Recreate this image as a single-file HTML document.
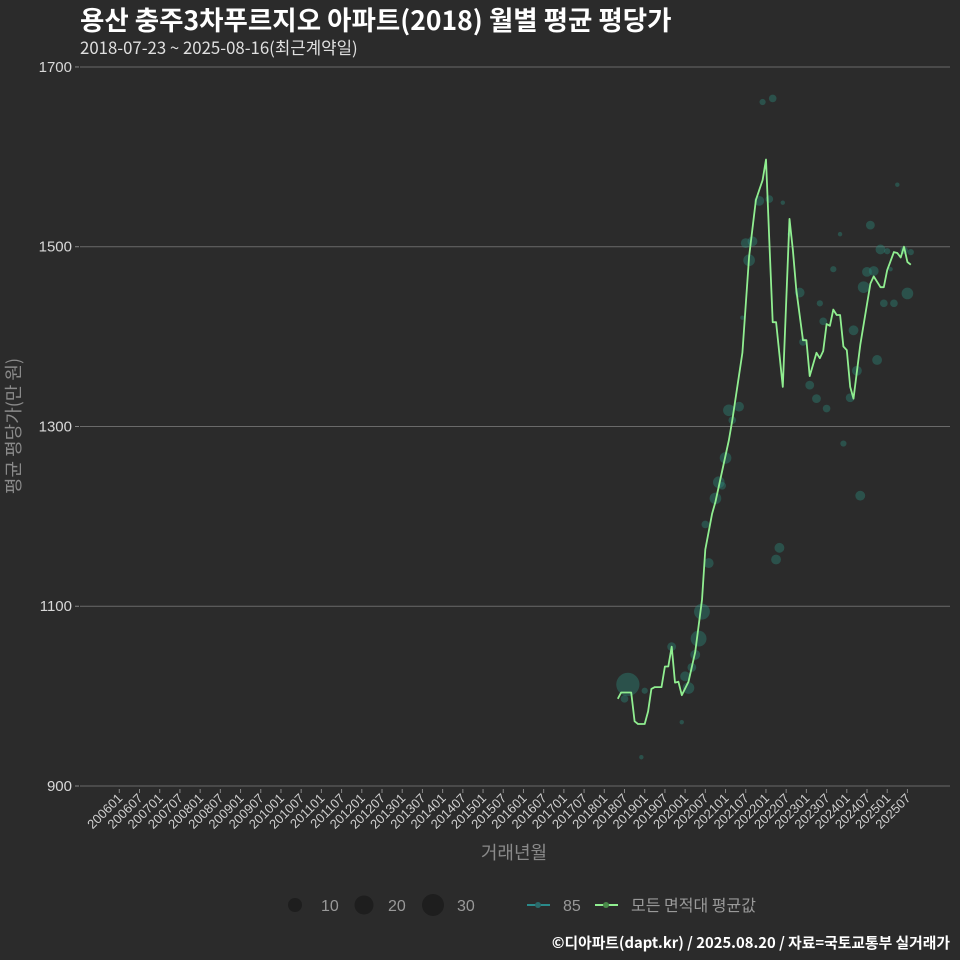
<!DOCTYPE html>
<html><head><meta charset="utf-8"><style>
html,body{margin:0;padding:0;background:#2b2b2b;}
svg{display:block;font-family:"Liberation Sans","Noto Sans CJK KR",sans-serif;}
</style></head><body>
<svg id="chart" width="960" height="960" viewBox="0 0 960 960">
<rect width="960" height="960" fill="#2b2b2b"/>
<text x="80" y="30" fill="#ffffff" font-size="26.5" font-weight="bold" font-family="'Noto Sans CJK KR',sans-serif">용산 충주3차푸르지오 아파트(2018) 월별 평균 평당가</text>
<text x="80" y="54" fill="#e0e0e0" font-size="16.8" font-family="'Noto Sans CJK KR',sans-serif">2018-07-23 ~ 2025-08-16(최근계약일)</text>
<g id="grid"></g>
<g id="yticks"></g>
<g id="xticks"></g>
<g id="bubbles"></g>
<g id="lineg"></g>
<text transform="translate(20,426) rotate(-90)" text-anchor="middle" fill="#8a8a8a" font-size="18" font-family="'Noto Sans CJK KR',sans-serif">평균 평당가(만 원)</text>
<text x="514" y="859" text-anchor="middle" fill="#8a8a8a" font-size="18" font-family="'Noto Sans CJK KR',sans-serif">거래년월</text>
<g>
 <circle cx="295" cy="905" r="7" fill="#1e1e1e"/>
 <text x="321" y="911" fill="#999" font-size="16">10</text>
 <circle cx="364" cy="905" r="9.5" fill="#1e1e1e"/>
 <text x="388" y="911" fill="#999" font-size="16">20</text>
 <circle cx="433" cy="905" r="11" fill="#1e1e1e"/>
 <text x="457" y="911" fill="#999" font-size="16">30</text>
 <line x1="527" y1="905" x2="550" y2="905" stroke="#2a8a8a" stroke-width="2"/>
 <circle cx="538" cy="905" r="3" fill="#2a6a6a"/>
 <text x="563" y="911" fill="#999" font-size="16">85</text>
 <line x1="595" y1="905" x2="618" y2="905" stroke="#90ee90" stroke-width="2"/>
 <circle cx="606" cy="905" r="3" fill="#4a8a4a"/>
 <text x="631" y="911" fill="#999" font-size="16" font-family="'Noto Sans CJK KR',sans-serif">모든 면적대 평균값</text>
</g>
<text x="950" y="948" text-anchor="end" fill="#ffffff" font-size="14.8" font-weight="bold" font-family="'Noto Sans CJK KR',sans-serif">©디아파트(dapt.kr) / 2025.08.20 / 자료=국토교통부 실거래가</text>
</svg>
<script>
const yTicks=[900,1100,1300,1500,1700];
const lineMonths=[148,149,152,153,154,156,157,158,159,161,162,163,164,165,166,167,169,171,173,174,176,177,181,182,185,187,189,190,191,192,193,194,195,197,199,200,201,203,204,205,207,208,209,210,211,212,213,214,215,216,217,218,220,223,224,226,227,228,230,231,232,233,234,235];
const lineValues=[997,1004,1004,972,969,969,983,1008,1010,1010,1033,1033,1055,1015,1016,1001,1016,1049,1107,1163,1203,1216,1285,1307,1382,1489,1552,1563,1574,1597,1507,1416,1416,1344,1531,1496,1452,1396,1396,1356,1382,1376,1384,1414,1412,1430,1424,1424,1389,1385,1344,1331,1391,1459,1467,1455,1455,1474,1494,1493,1488,1500,1483,1480];
const bubbleMonths=[151,150,156,155,167,164,168,169,170,171,172,173,175,174,177,178,179,180,181,184,182,185,186,188,187,190,193,191,194,197,199,195,196,202,203,205,207,210,208,209,212,214,218,217,219,225,221,222,224,223,226,228,227,230,231,234,233,235,215,220,229];
const bubbleValues=[1013,997,1006,932,971,1055,1022,1009,1032,1046,1064,1094,1148,1191,1220,1238,1234,1265,1318,1322,1307,1421,1504,1506,1485,1551,1553,1661,1665,1549,1514,1152,1165,1449,1394,1346,1331,1320,1437,1417,1475,1514,1407,1332,1362,1374,1455,1472,1473,1524,1497,1495,1437,1437,1569,1448,1496,1494,1281,1223,1475];
const bubbleCounts=[28,3,2,1,1,4,5,7,4,5,13,13,5,3,7,7,3,7,7,5,3,1,5,5,7,5,3,2,3,1,1,5,5,5,3,4,4,3,2,3,2,1,5,4,5,5,7,5,5,4,5,2,3,3,1,7,3,2,2,5,1];

const NS="http://www.w3.org/2000/svg";
const X0=80,X1=950;
function xScale(m){return 119.3+m*3.368;}
function yScale(v){return 786-(v-900)*0.8988;}
function rScale(n){return 2.2*Math.sqrt(n);}
function mk(tag,attrs,parent){const e=document.createElementNS(NS,tag);for(const k in attrs)e.setAttribute(k,attrs[k]);parent.appendChild(e);return e;}
const grid=document.getElementById('grid'),yt=document.getElementById('yticks'),xt=document.getElementById('xticks');
yTicks.forEach(v=>{
 const y=yScale(v);
 const l=mk('line',{x1:X0,x2:X1,y1:y,y2:y,stroke:'#6a6a6a','stroke-width':1},grid);
 
 
 const t=mk('line',{x1:75,x2:79,y1:y,y2:y,stroke:'#888'},yt);
 
 
 const tx=mk('text',{x:72,y:y+5,'text-anchor':'end',fill:'#d8d8d8','font-size':15},yt);
 tx.textContent=v;
 
 
});
for(let m=0;m<=234;m+=6){
 const yr=2006+Math.floor(m/12),mo=m%12+1;
 const lab=yr+(mo<10?'0':'')+mo;
 const x=xScale(m);
 const t=mk('line',{x1:x,x2:x,y1:789,y2:793,stroke:'#888'},xt);
 
 
 const tx=mk('text',{transform:'translate('+(x+4)+',799) rotate(-45)','text-anchor':'end',fill:'#d0d0d0','font-size':13},xt);
 tx.textContent=lab;
 
 
}
const bg=document.getElementById('bubbles');
bubbleMonths.forEach((m,i)=>{
 const c=mk('circle',{cx:xScale(m),cy:yScale(bubbleValues[i]),r:rScale(bubbleCounts[i]),fill:'rgba(45,140,125,0.4)'},bg);
 
 
});
const lg=document.getElementById('lineg');
const d=lineMonths.map((m,i)=>(i?'L':'M')+xScale(m).toFixed(1)+','+yScale(lineValues[i]).toFixed(1)).join(' ');
const p=mk('path',{d:d,fill:'none',stroke:'#90ee90','stroke-width':1.8,'stroke-linejoin':'round'},lg);


</script>
</body></html>
